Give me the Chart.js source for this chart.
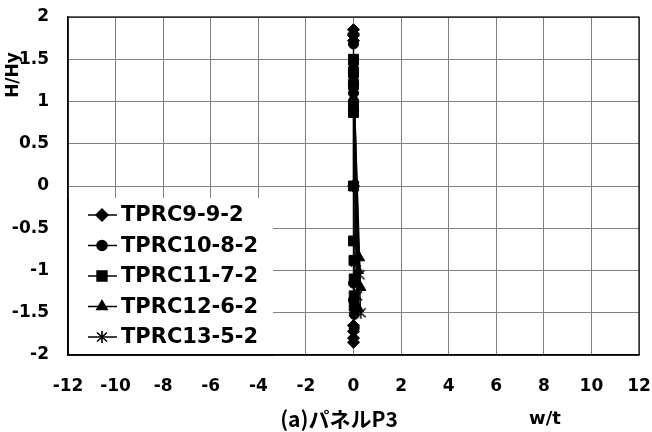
<!DOCTYPE html>
<html>
<head>
<meta charset="utf-8">
<script src="https://cdn.jsdelivr.net/npm/chart.js@4"></script>
<style>
  html, body { margin: 0; padding: 0; background: #fff; }
  canvas { display: block; }
</style>
</head>
<body>
<canvas id="chart" width="652" height="432"></canvas>
<script>
// w/t vs H/Hy, panel P3
const seriesNames = ["TPRC9-9-2", "TPRC10-8-2", "TPRC11-7-2", "TPRC12-6-2", "TPRC13-5-2"];

const s1x = [0, 0, 0, 0, 0, 0, 0, 0, 0];
const s1y = [0, 1.72, -1.65, 1.78, -1.72, 1.85, -1.85, 1.8, -1.8];

const s2x = [0, 0, 0, 0, 0, 0, 0.03, 0, 0.03];
const s2y = [0, 1.1, -1.15, 1.3, -1.35, 1.45, -1.52, 1.68, -1.68];

const s3x = [0, 0, 0, 0, 0.02, 0, 0.03, 0, 0.03, 0, 0.03];
const s3y = [0, 0.87, -0.65, 0.95, -0.88, 1.2, -1.1, 1.35, -1.3, 1.5, -1.42];

const s4x = [0, 0, 0.25, 0, 0.2, 0, 0.3, 0, 0.2];
const s4y = [0, 0.9, -0.85, 1.05, -1.0, 1.25, -1.2, 1.4, -1.45];

const s5x = [0, 0, 0.1, 0, 0.25, 0, 0.15, 0, 0.3];
const s5y = [0, 0.95, -0.9, 1.15, -1.05, 1.3, -1.3, 1.45, -1.5];

const xTicks = [-12, -10, -8, -6, -4, -2, 0, 2, 4, 6, 8, 10, 12];
const yTicks = [-2, -1.5, -1, -0.5, 0, 0.5, 1, 1.5, 2];

const toPoints = (xs, ys) => xs.map((x, i) => ({ x: x, y: ys[i] }));

// asterisk marker (vertical + X), like the spreadsheet "*" marker
const star = document.createElement("canvas");
star.width = 14;
star.height = 14;
(function () {
    const c = star.getContext("2d");
    c.strokeStyle = "#000";
    c.lineWidth = 1.6;
    c.beginPath();
    c.moveTo(7, 1); c.lineTo(7, 13);
    c.moveTo(2, 2.5); c.lineTo(12, 11.5);
    c.moveTo(12, 2.5); c.lineTo(2, 11.5);
    c.stroke();
})();

const markers = [
    { pointStyle: "rectRot", radius: 6 },
    { pointStyle: "circle", radius: 5 },
    { pointStyle: "rect", radius: 7 },
    { pointStyle: "triangle", radius: 6 },
    { pointStyle: star, radius: 7 }
];

const seriesData = [
    toPoints(s1x, s1y),
    toPoints(s2x, s2y),
    toPoints(s3x, s3y),
    toPoints(s4x, s4y),
    toPoints(s5x, s5y)
];

const tickFont = { family: "'DejaVu Sans', sans-serif", size: 17, weight: "bold" };

const noPad = scale => {
    scale.paddingLeft = 0;
    scale.paddingRight = 0;
    scale.paddingTop = 0;
    scale.paddingBottom = 0;
};

const extraText = {
    id: "extraText",
    beforeDatasetsDraw(chart) {
        const { ctx, chartArea: a } = chart;
        ctx.save();
        ctx.strokeStyle = "#000";
        ctx.lineWidth = 1.2;
        ctx.strokeRect(a.left, a.top, a.right - a.left, a.bottom - a.top);
        ctx.restore();
    },
    afterDraw(chart) {
        const { ctx, chartArea: a } = chart;
        ctx.save();
        // legend box inside plot
        ctx.fillStyle = "#fff";
        ctx.fillRect(a.left + 1, 198, 204, a.bottom - 199);
        ctx.strokeStyle = "#000";
        ctx.lineWidth = 1.2;
        ctx.beginPath();
        ctx.moveTo(a.left, 198);
        ctx.lineTo(a.left, a.bottom);
        ctx.lineTo(a.left + 206, a.bottom);
        ctx.stroke();

        ctx.font = "bold 21px 'DejaVu Sans', sans-serif";
        ctx.textBaseline = "middle";
        ctx.textAlign = "left";
        seriesNames.forEach((name, i) => {
            const y = 215 + i * 30.5;
            ctx.strokeStyle = "#000";
            ctx.lineWidth = 1.5;
            ctx.beginPath();
            ctx.moveTo(88, y);
            ctx.lineTo(117, y);
            ctx.stroke();
            ctx.fillStyle = "#000";
            Chart.helpers.drawPoint(ctx, {
                pointStyle: markers[i].pointStyle,
                radius: markers[i].radius,
                rotation: 0,
                borderWidth: 1
            }, 102, y);
            ctx.fillStyle = "#000";
            ctx.fillText(name, 121, y + 1);
        });

        // axis titles
        ctx.fillStyle = "#000";
        ctx.font = "bold 17px 'DejaVu Sans', sans-serif";
        ctx.textAlign = "center";
        ctx.textBaseline = "middle";
        ctx.save();
        ctx.translate(14, 75);
        ctx.rotate(-Math.PI / 2);
        ctx.fillText("H/Hy", 0, 0);
        ctx.restore();

        ctx.font = "bold 21px 'Noto Sans CJK JP', sans-serif";
        ctx.fillText("(a)パネルP3", 339, 419);
        ctx.font = "bold 18px 'DejaVu Sans', sans-serif";
        ctx.fillText("w/t", 545, 419);
        ctx.restore();
    }
};

new Chart(document.getElementById("chart"), {
    type: "scatter",
    data: {
        datasets: seriesNames.map((name, i) => ({
            label: name,
            data: seriesData[i],
            showLine: true,
            borderColor: "#000",
            borderWidth: 1.2,
            backgroundColor: "#000",
            pointStyle: markers[i].pointStyle,
            pointRadius: markers[i].radius,
            pointBackgroundColor: "#000",
            pointBorderColor: "#000",
            pointBorderWidth: 1
        }))
    },
    options: {
        responsive: false,
        animation: false,
        devicePixelRatio: 1,
        layout: { padding: { left: 0, top: 17, right: 13, bottom: 0 } },
        plugins: {
            legend: { display: false },
            tooltip: { enabled: false }
        },
        scales: {
            x: {
                type: "linear",
                min: -12,
                max: 12,
                afterBuildTicks: scale => { scale.ticks = xTicks.map(v => ({ value: v })); },
                afterFit: scale => { scale.height = 77; noPad(scale); },
                ticks: {
                    color: "#000",
                    font: tickFont,
                    padding: 21,
                    maxRotation: 0,
                    callback: value => String(value)
                },
                grid: { color: "#808080", lineWidth: 1, drawTicks: false },
                border: { color: "#000", width: 1.2 }
            },
            y: {
                type: "linear",
                min: -2,
                max: 2,
                afterBuildTicks: scale => { scale.ticks = yTicks.map(v => ({ value: v })); },
                afterFit: scale => { scale.width = 68; noPad(scale); },
                ticks: {
                    color: "#000",
                    font: tickFont,
                    padding: 19,
                    callback: value => String(value)
                },
                grid: { color: "#808080", lineWidth: 1, drawTicks: false },
                border: { color: "#000", width: 1.2 }
            }
        }
    },
    plugins: [extraText]
});
</script>
</body>
</html>
